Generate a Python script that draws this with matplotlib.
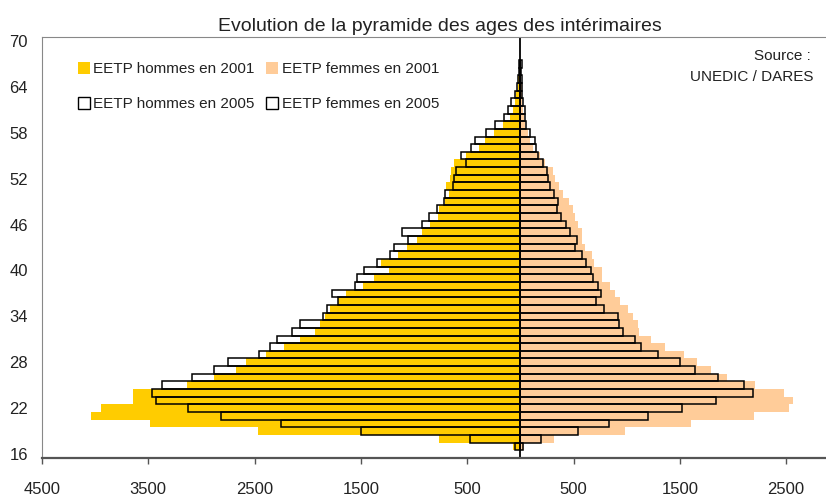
import numpy as np
import matplotlib
matplotlib.use("Agg")
import matplotlib.pyplot as plt
from matplotlib.patches import Patch

plt.rcParams['font.family'] = ['Liberation Sans', 'DejaVu Sans']

# ages 17 to 67
ages = np.arange(17, 68)

hommes_2001 = [70, 762, 2468, 3483, 4038, 3944, 3641, 3641, 3136, 2881,
               2675, 2580, 2392, 2223, 2072, 1931, 1884, 1840, 1788, 1720,
               1645, 1478, 1374, 1232, 1309, 1148, 1065, 970, 929, 854,
               778, 761, 711, 668, 696, 662, 650, 628, 510, 393,
               330, 252, 167, 101, 70, 55, 39, 24, 18, 12, 12]
hommes_2005 = [55, 470, 1496, 2248, 2813, 3126, 3427, 3465, 3374, 3086,
               2878, 2747, 2458, 2357, 2289, 2145, 2075, 1854, 1819, 1711,
               1776, 1553, 1539, 1475, 1348, 1225, 1190, 1057, 1113, 925,
               858, 782, 720, 706, 638, 625, 603, 515, 562, 468,
               431, 324, 235, 155, 116, 92, 55, 35, 27, 15, 15]
femmes_2001 = [35, 314, 982, 1603, 2196, 2528, 2562, 2478, 2205, 1942,
               1791, 1659, 1537, 1358, 1227, 1114, 1107, 1055, 1009, 933,
               891, 841, 770, 770, 690, 677, 610, 576, 584, 538,
               513, 492, 458, 401, 368, 325, 309, 230, 188, 120,
               92, 70, 45, 30, 28, 18, 15, 12, 10, 8, 8]
femmes_2005 = [25, 198, 546, 837, 1204, 1518, 1841, 2186, 2107, 1857,
               1646, 1502, 1292, 1135, 1082, 966, 930, 921, 790, 711,
               761, 727, 681, 660, 618, 584, 517, 530, 463, 429,
               383, 349, 356, 317, 278, 262, 247, 209, 170, 148,
               133, 88, 53, 40, 40, 23, 20, 16, 14, 10, 12]

x_ticks = [-4500, -3500, -2500, -1500, -500, 500, 1500, 2500]
y_ticks = [16, 22, 28, 34, 40, 46, 52, 58, 64, 70]

gold = '#FFCC00'
peach = '#FFCC99'

fig = plt.figure(figsize=(8.26, 4.97), dpi=100)
ax = fig.add_axes([42 / 826, (497 - 458) / 497, (826 - 42) / 826, 421 / 497])

ax.barh(ages, -np.array(hommes_2001), height=1.0, color=gold, linewidth=0)
ax.barh(ages, femmes_2001, height=1.0, color=peach, linewidth=0)
ax.barh(ages, -np.array(hommes_2005), height=1.0, fill=False,
        edgecolor='black', linewidth=1.1)
ax.barh(ages, femmes_2005, height=1.0, fill=False,
        edgecolor='black', linewidth=1.1)
ax.axvline(0, color='black', linewidth=1.3)

ax.set_xlim(-4500, 2875)
ax.set_ylim(15.5, 70.5)

ax.set_xticks(x_ticks)
ax.set_xticklabels([str(abs(v)) for v in x_ticks])
ax.set_yticks(y_ticks)
ax.set_yticklabels([str(v) for v in y_ticks])
ax.tick_params(axis='x', direction='out', length=4, width=1, color='#555555',
               pad=13, labelsize=12, labelcolor='#222222')
ax.tick_params(axis='y', length=0, pad=10, labelsize=12, labelcolor='#222222')

ax.spines['right'].set_visible(False)
ax.spines['left'].set_color('#888888')
ax.spines['top'].set_color('#888888')
ax.spines['bottom'].set_color('#555555')
ax.spines['bottom'].set_linewidth(1.6)

handles = [
    Patch(facecolor=gold, edgecolor='none', label='EETP hommes en 2001'),
    Patch(facecolor='none', edgecolor='black', linewidth=1, label='EETP hommes en 2005'),
    Patch(facecolor=peach, edgecolor='none', label='EETP femmes en 2001'),
    Patch(facecolor='none', edgecolor='black', linewidth=1, label='EETP femmes en 2005'),
]
fig.legend(handles=handles, ncol=2, loc='upper left',
           bbox_to_anchor=(78 / 826, (497 - 62) / 497),
           frameon=False, fontsize=11, handlelength=0.8, handleheight=0.8,
           handletextpad=0.2, columnspacing=0.76, labelspacing=1.38,
           borderpad=0, borderaxespad=0, labelcolor='#222222')

fig.text(811 / 826, (497 - 56) / 497, 'Source :', ha='right', va='center',
         fontsize=11, color='#222222')
fig.text(813 / 826, (497 - 77) / 497, 'UNEDIC / DARES', ha='right', va='center',
         fontsize=11, color='#222222')

fig.text(440 / 826, (497 - 31) / 497, 'Evolution de la pyramide des ages des intérimaires',
         ha='center', va='baseline', fontsize=14, color='#222222')

fig.savefig('out.png', dpi=100)
